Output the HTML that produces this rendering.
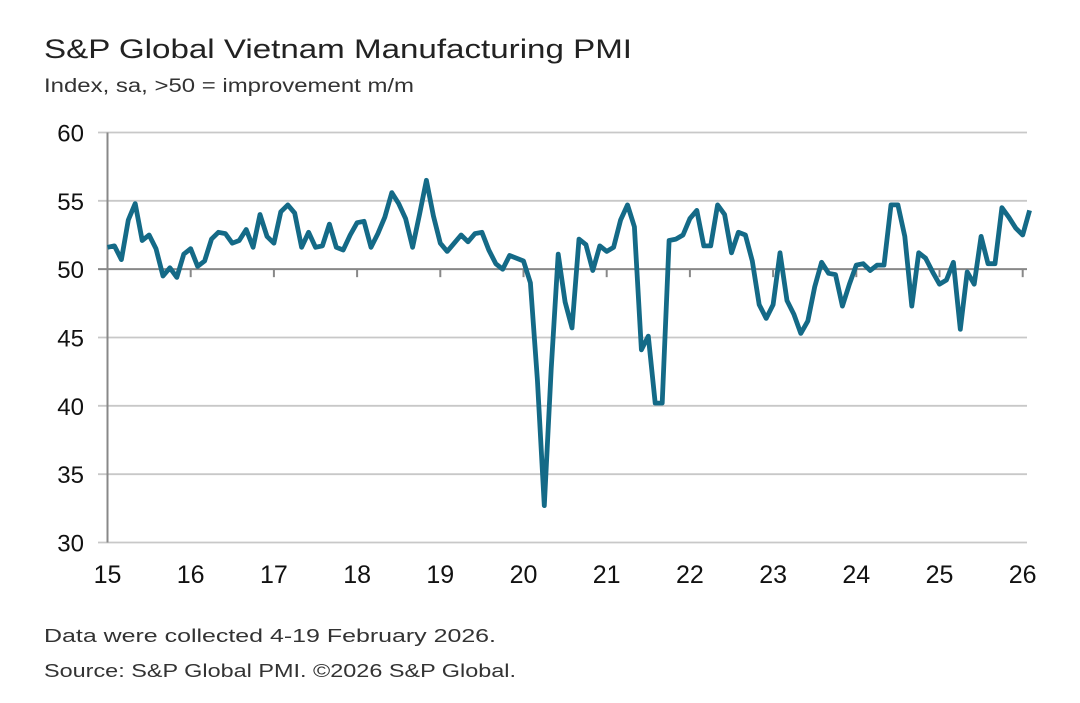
<!DOCTYPE html>
<html><head><meta charset="utf-8"><style>
body{margin:0;background:#fff;}
svg{display:block;font-family:"Liberation Sans",sans-serif;}
</style></head><body>
<svg id="chart" width="1080" height="703">
<text x="44" y="58" font-size="27" fill="#222" textLength="588" lengthAdjust="spacingAndGlyphs">S&amp;P Global Vietnam Manufacturing PMI</text>
<text x="44" y="92" font-size="19" fill="#333" textLength="370" lengthAdjust="spacingAndGlyphs">Index, sa, &gt;50 = improvement m/m</text>
<g id="grid"></g>
<g id="axes"></g>
<path id="line" fill="none" stroke="#146a87" stroke-width="4.8" stroke-linejoin="round"/>
<text x="44" y="642" font-size="18" fill="#333" textLength="452" lengthAdjust="spacingAndGlyphs">Data were collected 4-19 February 2026.</text>
<text x="44" y="677" font-size="18" fill="#333" textLength="472" lengthAdjust="spacingAndGlyphs">Source: S&amp;P Global PMI. ©2026 S&amp;P Global.</text>
</svg>
<script>
const yTicks=[30,35,40,45,50,55,60];
const xLabels=["15","16","17","18","19","20","21","22","23","24","25","26"];
const pmi=[
51.6,51.7,50.7,53.6,54.8,52.1,52.5,51.5,49.5,50.1,49.4,51.1,
51.5,50.2,50.6,52.2,52.7,52.6,51.9,52.1,52.9,51.6,54.0,52.4,
51.9,54.2,54.7,54.1,51.6,52.7,51.6,51.7,53.3,51.6,51.4,52.5,
53.4,53.5,51.6,52.6,53.8,55.6,54.8,53.7,51.6,54.0,56.5,53.9,
51.9,51.3,51.9,52.5,52.0,52.6,52.7,51.4,50.4,50.0,51.0,50.8,
50.6,49.0,41.9,32.7,42.7,51.1,47.6,45.7,52.2,51.8,49.9,51.7,
51.3,51.6,53.6,54.7,53.1,44.1,45.1,40.2,40.2,52.1,52.2,52.5,
53.7,54.3,51.7,51.7,54.7,54.0,51.2,52.7,52.5,50.6,47.4,46.4,
47.4,51.2,47.7,46.7,45.3,46.2,48.7,50.5,49.7,49.6,47.3,48.9,
50.3,50.4,49.9,50.3,50.3,54.7,54.7,52.4,47.3,51.2,50.8,49.8,
48.9,49.2,50.5,45.6,49.8,48.9,52.4,50.4,50.4,54.5,53.8,53.0,
52.5,54.3];
const NS="http://www.w3.org/2000/svg";
const X0=107.5,YR=83.2,Y60=132.5,Y30=542.5,XR=1027;
const xm=i=>X0+i*YR/12;
const y=v=>Y30-(v-30)*(Y30-Y60)/30;
const grid=document.getElementById('grid'),axes=document.getElementById('axes');
function mk(tag,at,parent){const e=document.createElementNS(NS,tag);for(const k in at)e.setAttribute(k,at[k]);parent.appendChild(e);return e;}
yTicks.forEach(v=>{
  const l=mk('line',{x1:98,x2:XR,y1:y(v),y2:y(v),stroke:v===50?'#888':'#c8c8c8','stroke-width':v===50?2:1.8},grid);
  
  
  const t=mk('text',{x:84,y:y(v)+9,'text-anchor':'end','font-size':24,fill:'#111'},axes);
  t.textContent=v;
  
  
});
const ax=mk('line',{x1:X0,x2:X0,y1:Y60,y2:Y30,stroke:'#888','stroke-width':2},axes);


xLabels.forEach((s,i)=>{
  const xx=X0+i*YR;
  const tk=mk('line',{x1:xx,x2:xx,y1:y(50),y2:y(50)+8,stroke:'#888','stroke-width':2},axes);
  
  
  const t=mk('text',{x:xx,y:583,'text-anchor':'middle','font-size':25,fill:'#111'},axes);
  t.textContent=s;
  
  
});
document.getElementById('line').setAttribute('d',pmi.map((v,i)=>(i?'L':'M')+xm(i).toFixed(1)+','+y(v).toFixed(1)).join(''));
</script>
</body></html>
